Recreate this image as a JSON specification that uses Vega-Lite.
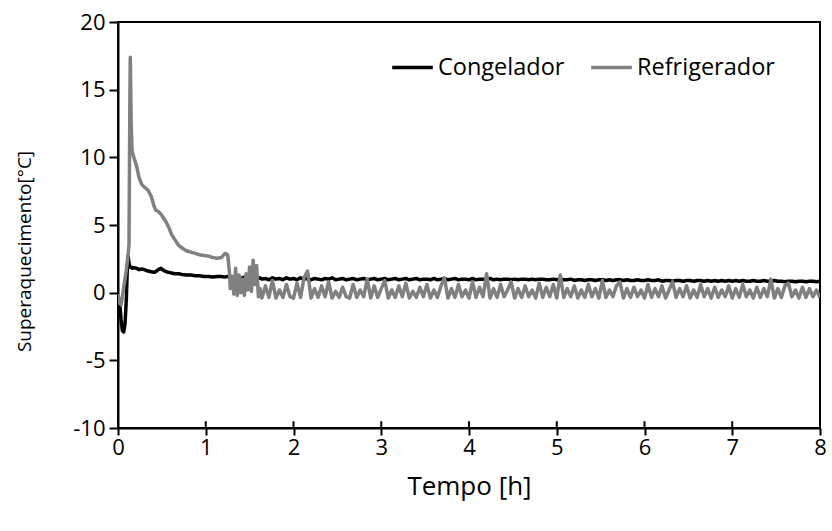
{
  "$schema": "https://vega.github.io/schema/vega-lite/v6.json",
  "width": 702,
  "height": 406,
  "autosize": {"type": "none"},
  "padding": {"left": 118, "top": 22, "right": 12, "bottom": 103},
  "background": "white",
  "config": {
    "font": "Open Sans",
    "view": {"stroke": "black", "strokeWidth": 2},
    "axis": {"grid": false, "domainColor": "black", "domainWidth": 2, "tickColor": "black", "tickWidth": 2, "labelColor": "black", "titleColor": "black", "labelFont": "Open Sans", "titleFont": "Open Sans", "titleFontWeight": "normal", "labelFlush": false, "labelOverlap": false}
  },
  "datasets": {
    "series": [
      {"t":0,"C":-0.2,"R":-0.1},{"t":0.02,"C":-0.8,"R":-0.8},{"t":0.035,"C":-2.0,"R":-0.9},{"t":0.05,"C":-2.8,"R":-0.3},{"t":0.065,"C":-2.9,"R":0.4},{"t":0.08,"C":-2.3,"R":1.0},{"t":0.095,"C":-0.5,"R":1.7},{"t":0.105,"C":1.6,"R":2.2},{"t":0.115,"C":2.7,"R":2.8},{"t":0.125,"C":2.2,"R":3.5},{"t":0.135,"C":1.9,"R":14},{"t":0.14,"C":1.9,"R":17.4},{"t":0.15,"C":1.9,"R":12.5},{"t":0.16,"C":1.8,"R":10.5},{"t":0.18,"C":1.85,"R":10.0},{"t":0.21,"C":1.8,"R":9.4},{"t":0.24,"C":1.7,"R":8.5},{"t":0.27,"C":1.75,"R":8.0},{"t":0.3,"C":1.7,"R":7.8},{"t":0.34,"C":1.6,"R":7.6},{"t":0.38,"C":1.55,"R":7.1},{"t":0.41,"C":1.5,"R":6.4},{"t":0.43,"C":1.55,"R":6.1},{"t":0.46,"C":1.7,"R":6.0},{"t":0.49,"C":1.8,"R":5.8},{"t":0.52,"C":1.65,"R":5.5},{"t":0.55,"C":1.55,"R":5.2},{"t":0.58,"C":1.5,"R":4.8},{"t":0.61,"C":1.45,"R":4.3},{"t":0.65,"C":1.4,"R":3.9},{"t":0.69,"C":1.4,"R":3.5},{"t":0.73,"C":1.35,"R":3.3},{"t":0.78,"C":1.3,"R":3.1},{"t":0.83,"C":1.3,"R":3.0},{"t":0.88,"C":1.25,"R":2.9},{"t":0.93,"C":1.25,"R":2.8},{"t":0.98,"C":1.2,"R":2.75},{"t":1.03,"C":1.2,"R":2.7},{"t":1.08,"C":1.15,"R":2.6},{"t":1.13,"C":1.2,"R":2.55},{"t":1.18,"C":1.2,"R":2.6},{"t":1.22,"C":1.15,"R":2.9},{"t":1.25,"C":1.2,"R":2.8},{"t":1.27,"C":1.2,"R":1.5},{"t":1.28,"C":1.15,"R":0.3},
      {"t":1.30,"C":1.2,"R":1.2},{"t":1.32,"C":1.1,"R":-0.1},{"t":1.34,"C":1.2,"R":1.8},{"t":1.36,"C":1.1,"R":-0.2},{"t":1.38,"C":1.15,"R":1.3},{"t":1.40,"C":1.05,"R":0.0},{"t":1.42,"C":1.1,"R":1.0},{"t":1.44,"C":1.15,"R":-0.2},{"t":1.46,"C":1.1,"R":1.4},{"t":1.48,"C":1.05,"R":0.2},{"t":1.50,"C":1.1,"R":1.9},{"t":1.52,"C":1.05,"R":0.1},{"t":1.54,"C":1.1,"R":2.4},{"t":1.56,"C":1.05,"R":0.6},{"t":1.58,"C":1.0,"R":2.0},{"t":1.60,"C":1.05,"R":-0.3},{"t":1.62,"C":1.1,"R":0.3},{"t":1.64,"C":1.0,"R":-0.4},
      {"t":1.68,"C":1.05,"R":0.5},{"t":1.72,"C":0.95,"R":-0.35},{"t":1.76,"C":1.1,"R":0.9},{"t":1.80,"C":1.0,"R":-0.4},{"t":1.84,"C":1.05,"R":0.2},{"t":1.88,"C":0.95,"R":-0.35},{"t":1.92,"C":1.1,"R":0.6},{"t":1.96,"C":1.0,"R":-0.3},{"t":2.00,"C":1.05,"R":-0.4},{"t":2.04,"C":0.95,"R":0.7},{"t":2.08,"C":1.1,"R":-0.35},{"t":2.12,"C":1.0,"R":1.1},{"t":2.16,"C":1.05,"R":1.6},{"t":2.20,"C":0.95,"R":-0.4},{"t":2.24,"C":1.05,"R":0.3},{"t":2.28,"C":1.0,"R":-0.35},{"t":2.32,"C":0.95,"R":0.5},{"t":2.36,"C":1.05,"R":-0.3},{"t":2.40,"C":1.0,"R":0.8},{"t":2.44,"C":1.1,"R":-0.4},{"t":2.48,"C":0.95,"R":0.1},{"t":2.52,"C":1.0,"R":-0.35},{"t":2.56,"C":1.05,"R":0.4},{"t":2.60,"C":0.95,"R":-0.3},{"t":2.64,"C":1.0,"R":-0.4},{"t":2.68,"C":1.05,"R":0.6},{"t":2.72,"C":0.95,"R":-0.35},{"t":2.76,"C":1.0,"R":0.2},{"t":2.80,"C":1.05,"R":-0.3},{"t":2.84,"C":0.95,"R":1.0},{"t":2.88,"C":1.0,"R":-0.4},{"t":2.92,"C":1.05,"R":0.5},{"t":2.96,"C":0.95,"R":-0.35},{"t":3.00,"C":1.0,"R":0.3},
      {"t":3.04,"C":1.05,"R":0.9},{"t":3.08,"C":0.95,"R":-0.4},{"t":3.12,"C":1.0,"R":0.2},{"t":3.16,"C":1.05,"R":-0.35},{"t":3.20,"C":0.95,"R":0.5},{"t":3.24,"C":1.0,"R":-0.3},{"t":3.28,"C":1.05,"R":0.7},{"t":3.32,"C":0.95,"R":-0.4},{"t":3.36,"C":1.0,"R":0.1},{"t":3.40,"C":1.05,"R":-0.35},{"t":3.44,"C":0.95,"R":0.4},{"t":3.48,"C":1.0,"R":-0.3},{"t":3.52,"C":1.0,"R":0.6},{"t":3.56,"C":0.95,"R":-0.4},{"t":3.60,"C":1.05,"R":0.2},{"t":3.64,"C":0.95,"R":-0.35},{"t":3.68,"C":1.0,"R":0.5},{"t":3.72,"C":1.05,"R":1.1},{"t":3.76,"C":0.95,"R":-0.4},{"t":3.80,"C":1.0,"R":0.3},{"t":3.84,"C":1.05,"R":-0.35},{"t":3.88,"C":0.95,"R":0.6},{"t":3.92,"C":1.0,"R":-0.3},{"t":3.96,"C":1.0,"R":0.2},{"t":4.00,"C":0.95,"R":-0.4},
      {"t":4.04,"C":1.05,"R":0.8},{"t":4.08,"C":0.95,"R":-0.35},{"t":4.12,"C":1.0,"R":0.4},{"t":4.16,"C":1.0,"R":-0.3},{"t":4.20,"C":0.95,"R":1.4},{"t":4.24,"C":1.05,"R":-0.4},{"t":4.28,"C":0.95,"R":0.3},{"t":4.32,"C":1.0,"R":-0.35},{"t":4.36,"C":0.95,"R":0.6},{"t":4.40,"C":1.0,"R":-0.3},{"t":4.44,"C":1.0,"R":0.2},{"t":4.48,"C":0.95,"R":0.8},{"t":4.52,"C":1.0,"R":-0.4},{"t":4.56,"C":0.95,"R":0.3},{"t":4.60,"C":1.0,"R":-0.35},{"t":4.64,"C":1.0,"R":0.5},{"t":4.68,"C":0.95,"R":-0.3},{"t":4.72,"C":1.0,"R":0.2},{"t":4.76,"C":0.95,"R":-0.4},{"t":4.80,"C":1.0,"R":0.7},{"t":4.84,"C":1.0,"R":-0.35},{"t":4.88,"C":0.95,"R":0.4},{"t":4.92,"C":0.95,"R":-0.3},{"t":4.96,"C":1.0,"R":0.6},{"t":5.00,"C":0.95,"R":-0.4},
      {"t":5.04,"C":1.0,"R":1.3},{"t":5.08,"C":0.95,"R":-0.35},{"t":5.12,"C":0.95,"R":0.3},{"t":5.16,"C":1.0,"R":-0.3},{"t":5.20,"C":0.9,"R":0.5},{"t":5.24,"C":0.95,"R":-0.4},{"t":5.28,"C":0.95,"R":0.2},{"t":5.32,"C":0.9,"R":-0.35},{"t":5.36,"C":0.95,"R":0.6},{"t":5.40,"C":0.95,"R":-0.3},{"t":5.44,"C":0.9,"R":0.3},{"t":5.48,"C":0.95,"R":-0.4},{"t":5.52,"C":0.95,"R":0.9},{"t":5.56,"C":0.9,"R":-0.35},{"t":5.60,"C":0.95,"R":0.2},{"t":5.64,"C":0.9,"R":-0.3},{"t":5.68,"C":0.95,"R":0.5},{"t":5.72,"C":0.95,"R":0.8},{"t":5.76,"C":0.9,"R":-0.4},{"t":5.80,"C":0.95,"R":0.3},{"t":5.84,"C":0.9,"R":-0.35},{"t":5.88,"C":0.9,"R":0.4},{"t":5.92,"C":0.95,"R":-0.3},{"t":5.96,"C":0.9,"R":0.2},{"t":6.00,"C":0.9,"R":-0.4},
      {"t":6.04,"C":0.95,"R":0.6},{"t":6.08,"C":0.9,"R":-0.35},{"t":6.12,"C":0.9,"R":0.3},{"t":6.16,"C":0.95,"R":-0.3},{"t":6.20,"C":0.85,"R":0.5},{"t":6.24,"C":0.9,"R":-0.4},{"t":6.28,"C":0.9,"R":0.2},{"t":6.32,"C":0.85,"R":0.8},{"t":6.36,"C":0.9,"R":-0.35},{"t":6.40,"C":0.9,"R":0.3},{"t":6.44,"C":0.85,"R":-0.3},{"t":6.48,"C":0.9,"R":0.5},{"t":6.52,"C":0.9,"R":-0.4},{"t":6.56,"C":0.85,"R":0.2},{"t":6.60,"C":0.9,"R":-0.35},{"t":6.64,"C":0.9,"R":0.6},{"t":6.68,"C":0.85,"R":-0.3},{"t":6.72,"C":0.9,"R":0.3},{"t":6.76,"C":0.85,"R":-0.4},{"t":6.80,"C":0.9,"R":0.4},{"t":6.84,"C":0.85,"R":-0.35},{"t":6.88,"C":0.9,"R":0.2},{"t":6.92,"C":0.85,"R":-0.3},{"t":6.96,"C":0.9,"R":0.5},{"t":7.00,"C":0.85,"R":-0.4},
      {"t":7.04,"C":0.9,"R":0.3},{"t":7.08,"C":0.85,"R":-0.35},{"t":7.12,"C":0.9,"R":0.6},{"t":7.16,"C":0.85,"R":-0.3},{"t":7.20,"C":0.85,"R":0.2},{"t":7.24,"C":0.9,"R":-0.4},{"t":7.28,"C":0.85,"R":0.4},{"t":7.32,"C":0.85,"R":-0.35},{"t":7.36,"C":0.9,"R":0.3},{"t":7.40,"C":0.85,"R":-0.3},{"t":7.44,"C":0.85,"R":1.0},{"t":7.48,"C":0.9,"R":-0.4},{"t":7.52,"C":0.85,"R":0.3},{"t":7.56,"C":0.85,"R":-0.35},{"t":7.60,"C":0.8,"R":0.5},{"t":7.64,"C":0.85,"R":0.7},{"t":7.68,"C":0.85,"R":-0.3},{"t":7.72,"C":0.8,"R":0.2},{"t":7.76,"C":0.85,"R":-0.4},{"t":7.80,"C":0.85,"R":0.4},{"t":7.84,"C":0.8,"R":-0.35},{"t":7.88,"C":0.85,"R":0.3},{"t":7.92,"C":0.85,"R":-0.3},{"t":7.96,"C":0.8,"R":0.2},{"t":8.00,"C":0.85,"R":-0.35}
    ],
    "ticks": [{"t":1},{"t":2},{"t":3},{"t":4},{"t":5},{"t":6},{"t":7}]
  },
  "layer": [
    {
      "data": {"name": "ticks"},
      "mark": {"type": "rule", "color": "black", "strokeWidth": 2},
      "encoding": {
        "x": {"field": "t", "type": "quantitative", "scale": {"domain": [0, 8], "nice": false}},
        "y": {"datum": -10, "type": "quantitative", "scale": {"domain": [-10, 20], "nice": false}},
        "y2": {"datum": -9.5}
      }
    },
    {
      "data": {"name": "series"},
      "transform": [{"fold": ["C", "R"], "as": ["s", "v"]}],
      "mark": {"type": "line", "strokeWidth": 3.5, "strokeJoin": "round", "clip": true},
      "encoding": {
        "x": {
          "field": "t", "type": "quantitative",
          "scale": {"domain": [0, 8], "nice": false},
          "axis": {"values": [0,1,2,3,4,5,6,7,8], "format": "d", "title": "Tempo [h]", "labelFontSize": 22, "titleFontSize": 26, "tickSize": 7, "labelPadding": 2, "titlePadding": 15}
        },
        "y": {
          "field": "v", "type": "quantitative",
          "scale": {"domain": [-10, 20], "nice": false},
          "axis": {"values": [-10,-5,0,5,10,15,20], "labelExpr": "'' + datum.value", "title": "Superaquecimento[°C]", "labelFontSize": 22, "titleFontSize": 19, "tickSize": 9, "labelPadding": 4, "titleX": -84, "titleY": 229}
        },
        "color": {
          "field": "s", "type": "nominal",
          "scale": {"domain": ["C", "R"], "range": ["#000000", "#808080"]},
          "legend": {
            "title": null, "orient": "none", "direction": "horizontal",
            "legendX": 272, "legendY": 23,
            "symbolType": "stroke", "symbolSize": 1650, "symbolStrokeWidth": 3.5,
            "labelFontSize": 23.5, "labelColor": "black", "labelOffset": 3, "columnPadding": 19,
            "labelExpr": "datum.value == 'C' ? 'Congelador' : 'Refrigerador'"
          }
        }
      }
    }
  ]
}
